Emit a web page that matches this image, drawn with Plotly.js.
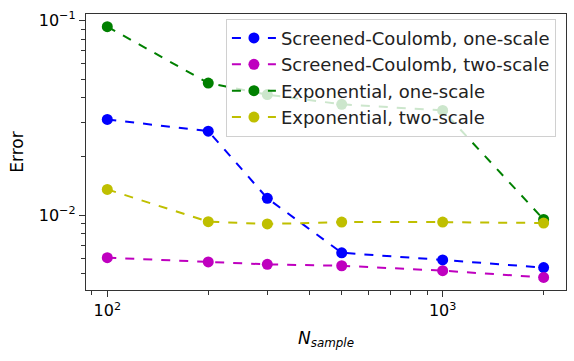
<!DOCTYPE html>
<html>
<head>
<meta charset="utf-8">
<script src="https://cdn.plot.ly/plotly-3.0.1.min.js"></script>
<style>
  html, body { margin: 0; padding: 0; background: #fff; }
  #chart { width: 574px; height: 361px; }
</style>
</head>
<body>
<div id="chart"></div>
<script>
// sample counts (x) and errors for each method
const nSample = [100, 200, 300, 500, 1000, 2000];

const scOneScale  = [0.0310, 0.0270, 0.0122, 0.0064, 0.00588, 0.00537];
const scTwoScale  = [0.00604, 0.00574, 0.00558, 0.00549, 0.00518, 0.00478];
const expOneScale = [0.0930, 0.0477, 0.0416, 0.0371, 0.0345, 0.0095];
const expTwoScale = [0.01355, 0.00925, 0.0090, 0.0092, 0.0092, 0.0091];

const seriesNames = [
    'Screened-Coulomb, one-scale',
    'Screened-Coulomb, two-scale',
    'Exponential, one-scale',
    'Exponential, two-scale'
];
const seriesColors = ['#0000ff', '#bf00bf', '#008000', '#bfbf00'];

const yTickVals = [0.01, 0.1];
const yTickText = ['10<sup>\u22122</sup>', '10<sup>\u22121</sup>'];
const xTickVals = [100, 1000];
const xTickText = ['10<sup>2</sup>', '10<sup>3</sup>'];

const yMinorVals = [0.005, 0.006, 0.007, 0.008, 0.009, 0.02, 0.03, 0.04, 0.05, 0.06, 0.07, 0.08, 0.09];
const xMinorVals = [90, 200, 300, 400, 500, 600, 700, 800, 900, 2000];

const allY = [scOneScale, scTwoScale, expOneScale, expTwoScale];

// separate legend groups so the gap gives the taller rows of the original
const traces = allY.map((ys, i) => ({
    x: nSample,
    y: ys,
    name: seriesNames[i],
    legendgroup: 'g' + i,
    type: 'scatter',
    mode: 'lines+markers',
    line: { color: seriesColors[i], width: 2, dash: 'dash' },
    marker: { color: seriesColors[i], size: 11 }
}));

const tickFont = { family: 'DejaVu Sans', size: 16, color: '#000' };
const titleFont = { family: 'DejaVu Sans', size: 17, color: '#000' };

Plotly.newPlot('chart', traces, {
    width: 574,
    height: 361,
    margin: { l: 86, r: 8, t: 14, b: 71 },
    paper_bgcolor: '#fff',
    plot_bgcolor: '#fff',
    font: { family: 'DejaVu Sans', size: 16, color: '#000' },
    showlegend: true,
    legend: {
        x: 0.979, y: 0.983, xanchor: 'right', yanchor: 'top',
        bgcolor: 'rgba(255,255,255,0.8)',
        bordercolor: '#d0d0d0',
        borderwidth: 1,
        font: { family: 'DejaVu Sans', size: 18, color: '#222' },
        itemwidth: 44,
        tracegroupgap: 0
    },
    xaxis: {
        type: 'log',
        range: [Math.log10(86.4), Math.log10(2332)],
        tickmode: 'array',
        tickvals: xTickVals,
        ticktext: xTickText,
        ticks: 'outside',
        ticklen: 6,
        tickcolor: '#333',
        tickfont: tickFont,
        showgrid: false,
        zeroline: false,
        showline: true,
        linecolor: '#333',
        linewidth: 1.2,
        mirror: true,
        minor: { tickmode: 'array', tickvals: xMinorVals, ticks: 'outside', ticklen: 3.5, tickcolor: '#333', showgrid: false },
        title: { text: '<i>N<sub>sample</sub></i>', font: titleFont, standoff: 12 }
    },
    yaxis: {
        type: 'log',
        range: [Math.log10(0.00412), Math.log10(0.108)],
        tickmode: 'array',
        tickvals: yTickVals,
        ticktext: yTickText,
        ticks: 'outside',
        ticklen: 6,
        tickcolor: '#333',
        tickfont: tickFont,
        showgrid: false,
        zeroline: false,
        showline: true,
        linecolor: '#333',
        linewidth: 1.2,
        mirror: true,
        minor: { tickmode: 'array', tickvals: yMinorVals, ticks: 'outside', ticklen: 3.5, tickcolor: '#333', showgrid: false },
        title: { text: 'Error', font: titleFont, standoff: 10 }
    }
}, { displayModeBar: false, staticPlot: true });
</script>
</body>
</html>
